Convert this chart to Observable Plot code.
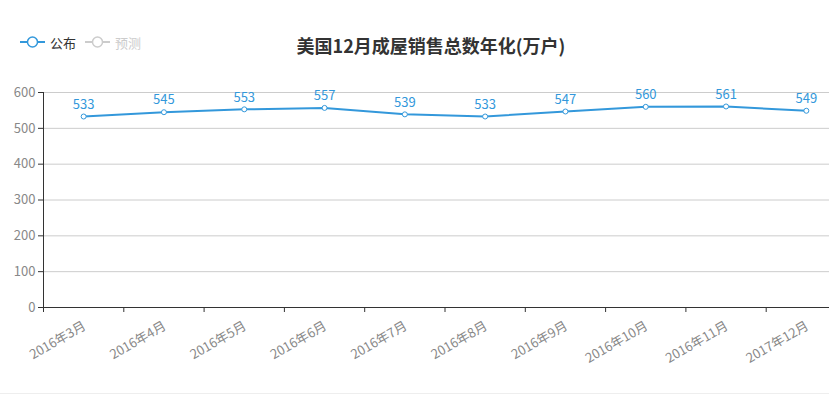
<!DOCTYPE html>
<html><head><meta charset="utf-8">
<script src="https://cdn.jsdelivr.net/npm/d3@7"></script>
<script src="https://cdn.jsdelivr.net/npm/@observablehq/plot@0.6"></script>
<style>
body{margin:0;background:#fff;font-family:"Noto Sans CJK SC","Noto Sans",sans-serif;}
#wrap{position:relative;width:829px;height:397px;overflow:hidden;}
#title{position:absolute;left:0;width:862px;top:32px;text-align:center;font-size:18px;font-weight:bold;color:#333;}
#legend{position:absolute;left:20px;top:34px;font-size:13px;}
.item{position:absolute;top:0;display:flex;align-items:center;height:16px;white-space:nowrap;}
#bottomline{position:absolute;left:0;top:393px;width:829px;height:1px;background:#eee;}
#chart{position:absolute;left:0;top:0;}
</style></head>
<body><div id="wrap">
<div id="chart"></div>
<div id="title">美国12月成屋销售总数年化(万户)</div>
<div id="legend"></div>
<div id="bottomline"></div>
</div>
<script>
const categories = ["2016年3月","2016年4月","2016年5月","2016年6月","2016年7月","2016年8月","2016年9月","2016年10月","2016年11月","2017年12月"];
const published = [533,545,553,557,539,533,547,560,561,549];
const yTicks = [0,100,200,300,400,500,600];
const legendItems = [{name:"公布",color:"#3398DB",text:"#333"},{name:"预测",color:"#ccc",text:"#ccc"}];

const data = categories.map((c,i)=>({month:c, value:published[i]}));
const blue = "#3398DB";
const xRange = [43, 846];
const bw = (xRange[1]-xRange[0])/categories.length;

const chart = Plot.plot({
  width: 829, height: 397,
  marginLeft: 43, marginRight: 0, marginTop: 92, marginBottom: 90,
  style:{fontFamily:'"Noto Sans CJK SC","Noto Sans",sans-serif', fontSize:"13px", background:"transparent", overflow:"visible"},
  x:{type:"band", domain:categories, range:xRange, padding:0, round:false},
  y:{domain:[0,600]},
  marks:[
    Plot.gridY(yTicks.slice(1), {stroke:"#ccc", strokeOpacity:1}),
    Plot.axisY(yTicks, {tickSize:5, tickPadding:3, stroke:"#333", fill:"#888", label:null, fontSize:13}),
    Plot.axisX({tickSize:5, dx:-bw/2, text:null, stroke:"#333", label:null}),
    Plot.axisX({tickSize:0, tickRotate:-30, textAnchor:"end", dx:1, dy:5, fill:"#888", label:null, fontSize:13}),
    Plot.ruleY([0], {stroke:"#333"}),
    Plot.ruleX([categories[0]], {dx:-bw/2, y1:0, y2:600, stroke:"#333"}),
    Plot.line(data, {x:"month", y:"value", stroke:blue, strokeWidth:2}),
    Plot.dot(data, {x:"month", y:"value", r:2.5, fill:"#fff", stroke:blue, strokeWidth:1}),
    Plot.text(data, {x:"month", y:"value", text:d=>String(d.value), dy:-12, fill:blue, fontSize:13})
  ]
});
document.getElementById("chart").appendChild(chart);

const lg = document.getElementById("legend");
legendItems.forEach((it,i)=>{
  const d = document.createElement("div");
  d.className="item";
  d.style.left = (i*65)+"px";
  d.innerHTML = `<svg width="25" height="14"><line x1="0" x2="25" y1="7" y2="7" stroke="${it.color}" stroke-width="2"/><circle cx="12.5" cy="7" r="5" fill="#fff" stroke="${it.color}" stroke-width="1.5"/></svg><span style="margin-left:5px;color:${it.text}">${it.name}</span>`;
  lg.appendChild(d);
});
</script></body></html>
